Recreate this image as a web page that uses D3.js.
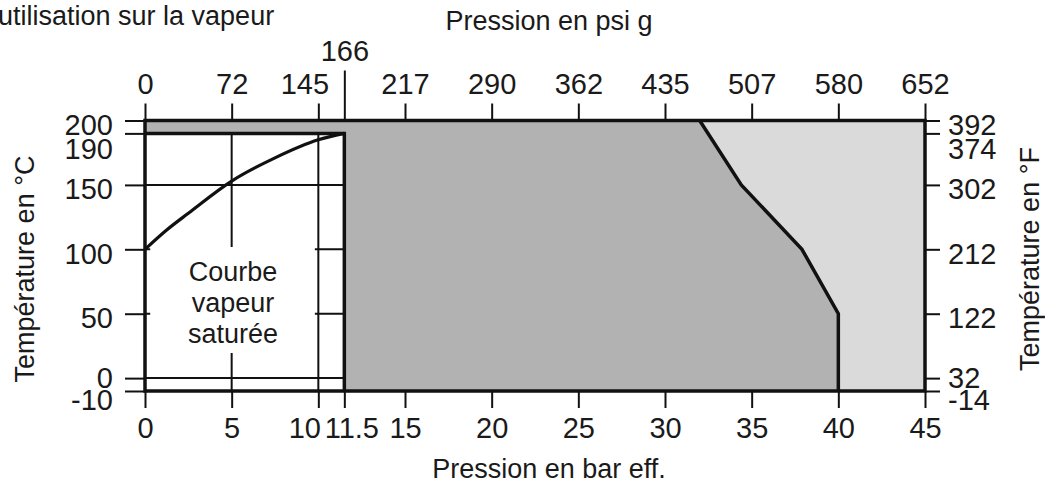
<!DOCTYPE html>
<html>
<head>
<meta charset="utf-8">
<script src="https://cdn.jsdelivr.net/npm/d3@7"></script>
<style>
  body { margin: 0; background: #fff; }
  text { font-family: "Liberation Sans", Arial, sans-serif; fill: #1a1a1a; }
</style>
</head>
<body>
<script>
// axes
var barTicks = [0, 5, 10, 11.5, 15, 20, 25, 30, 35, 40, 45];
var psiTicks = [0, 5, 10, 11.5, 15, 20, 25, 30, 35, 40, 45];
var psiLabels = ["0", "72", "145", "166", "217", "290", "362", "435", "507", "580", "652"];
var tempTicks = [-10, 0, 50, 100, 150, 190, 200];
var fahrLabels = ["-14", "32", "122", "212", "302", "374", "392"];

// limit between the two grey zones (bar, degC)
var limitBar = [32, 34.4, 37.9, 40, 40];
var limitTemp = [200, 150, 100, 50, -10];

// saturated steam curve
var satBar = [0, 1.25, 2.5, 5, 7.5, 10, 11.5];
var satTemp = [100, 115, 128, 153, 171, 185, 190];

// white zone (steam use) and its grid
var steamMaxBar = 11.5, steamMaxTemp = 190;
var gridBar = [5, 10];
var gridTemp = [0, 50, 100, 150];

var width = 1045, height = 487;

var x = d3.scaleLinear().domain([0, 45]).range([145, 925]);
var y = d3.scaleLinear().domain([-10, 200]).range([391, 120.5]);

var svg = d3.select("body").append("svg")
    .attr("width", width)
    .attr("height", height);

// light grey background of the whole field
svg.append("rect")
    .attr("x", x(0)).attr("y", y(200))
    .attr("width", x(45) - x(0)).attr("height", y(-10) - y(200))
    .attr("fill", "#dadada");

// dark grey zone up to the limit line
var limitPts = limitBar.map(function(b, i) { return [b, limitTemp[i]]; });
var darkPts = [[0, 200]].concat(limitPts).concat([[0, -10]]);
var line = d3.line()
    .x(function(d) { return x(d[0]); })
    .y(function(d) { return y(d[1]); });

svg.append("path")
    .attr("d", line(darkPts) + "Z")
    .attr("fill", "#b2b2b2");

// white steam zone
svg.append("rect")
    .attr("x", x(0)).attr("y", y(steamMaxTemp))
    .attr("width", x(steamMaxBar) - x(0)).attr("height", y(-10) - y(steamMaxTemp))
    .attr("fill", "#fff");

// grid in the white zone
svg.selectAll(".hgrid")
  .data(gridTemp)
  .enter()
  .append("line")
    .attr("class", "hgrid")
    .attr("x1", x(0)).attr("x2", x(steamMaxBar))
    .attr("y1", function(d) { return y(d); })
    .attr("y2", function(d) { return y(d); })
    .attr("stroke", "#111").attr("stroke-width", 2);

svg.selectAll(".vgrid")
  .data(gridBar)
  .enter()
  .append("line")
    .attr("class", "vgrid")
    .attr("y1", y(steamMaxTemp)).attr("y2", y(-10))
    .attr("x1", function(d) { return x(d); })
    .attr("x2", function(d) { return x(d); })
    .attr("stroke", "#111").attr("stroke-width", 2);

// label box
svg.append("rect")
    .attr("x", x(0.3)).attr("y", 247)
    .attr("width", x(9.8) - x(0.3)).attr("height", 106)
    .attr("fill", "#fff");

svg.append("g")
    .selectAll("text")
    .data(["Courbe", "vapeur", "saturée"])
    .enter()
    .append("text")
      .attr("x", 233)
      .attr("y", function(d, i) { return 281 + i * 31; })
      .attr("text-anchor", "middle")
      .attr("font-size", 27)
      .text(function(d) { return d; });

// saturated steam curve
var satPts = satBar.map(function(b, i) { return [b, satTemp[i]]; });
svg.append("path")
    .attr("d", line.curve(d3.curveMonotoneX)(satPts))
    .attr("fill", "none")
    .attr("stroke", "#111")
    .attr("stroke-width", 3.2);
line.curve(d3.curveLinear);

// limit line
svg.append("path")
    .attr("d", line(limitPts))
    .attr("fill", "none")
    .attr("stroke", "#111")
    .attr("stroke-width", 3.5);

// white zone border
svg.append("path")
    .attr("d", "M" + x(0) + "," + y(steamMaxTemp) + "H" + x(steamMaxBar) + "V" + y(-10))
    .attr("fill", "none")
    .attr("stroke", "#111")
    .attr("stroke-width", 3.5);

// outer frame
svg.append("rect")
    .attr("x", x(0)).attr("y", y(200))
    .attr("width", x(45) - x(0)).attr("height", y(-10) - y(200))
    .attr("fill", "none")
    .attr("stroke", "#111")
    .attr("stroke-width", 3.5);

function styleAxis(g) {
  g.select(".domain").remove();
  g.attr("font-family", null).attr("font-size", null);
  g.selectAll(".tick line").attr("stroke", "#111").attr("stroke-width", 2);
  g.selectAll(".tick text").attr("font-size", 29).attr("fill", "#1a1a1a");
}

// bottom axis, bar
var bottomDx = { 10: -14, 11.5: 7 };
svg.append("g")
    .attr("transform", "translate(0," + y(-10) + ")")
    .call(d3.axisBottom(x).tickValues(barTicks).tickSize(17).tickPadding(9)
      .tickFormat(function(d) { return String(d); }))
    .call(styleAxis)
    .selectAll(".tick text")
      .attr("dx", function(d) { return bottomDx[d] || 0; });

// top axis, psi g
var topAxis = svg.append("g")
    .attr("transform", "translate(0," + y(200) + ")")
    .call(d3.axisTop(x).tickValues(psiTicks).tickSize(17).tickPadding(10)
      .tickFormat(function(d, i) { return psiLabels[i]; }))
    .call(styleAxis);
topAxis.selectAll(".tick text")
    .attr("dx", function(d) { return d === 10 ? -14 : 0; });
topAxis.selectAll(".tick")
    .filter(function(d) { return d === steamMaxBar; })
    .call(function(t) {
      t.select("line").attr("y2", -50);
      t.select("text").attr("y", -60);
    });

// left axis, degC (plain hyphen for -10)
var leftDy = { 190: 11, 0: -5, "-10": 5 };
svg.append("g")
    .attr("transform", "translate(" + x(0) + ",0)")
    .call(d3.axisLeft(y).tickValues(tempTicks).tickSize(20).tickPadding(12)
      .tickFormat(function(d) { return String(d); }))
    .call(styleAxis)
    .selectAll(".tick text")
      .attr("dy", "0.48em")
      .attr("y", function(d) { return leftDy[d] || 0; });

// right axis, degF
var rightDy = { 190: 11, 0: -5, "-10": 5 };
svg.append("g")
    .attr("transform", "translate(" + x(45) + ",0)")
    .call(d3.axisRight(y).tickValues(tempTicks).tickSize(15).tickPadding(8)
      .tickFormat(function(d, i) { return fahrLabels[i]; }))
    .call(styleAxis)
    .selectAll(".tick text")
      .attr("dy", "0.48em")
      .attr("y", function(d) { return rightDy[d] || 0; });

// titles
svg.append("text")
    .attr("x", 549).attr("y", 30)
    .attr("text-anchor", "middle").attr("font-size", 27)
    .text("Pression en psi g");

svg.append("text")
    .attr("x", 549).attr("y", 478)
    .attr("text-anchor", "middle").attr("font-size", 27)
    .text("Pression en bar eff.");

svg.append("text")
    .attr("transform", "translate(34,269) rotate(-90)")
    .attr("text-anchor", "middle").attr("font-size", 27)
    .text("Température en °C");

svg.append("text")
    .attr("transform", "translate(1039,259) rotate(-90)")
    .attr("text-anchor", "middle").attr("font-size", 27)
    .text("Température en °F");

svg.append("text")
    .attr("x", -2).attr("y", 25)
    .attr("font-size", 27)
    .text("utilisation sur la vapeur");
</script>
</body>
</html>
